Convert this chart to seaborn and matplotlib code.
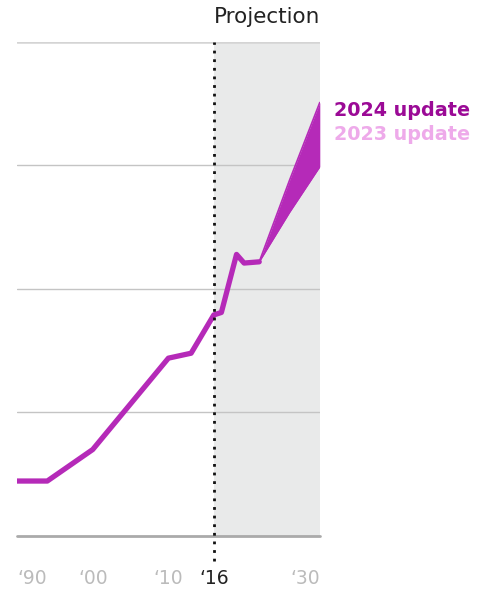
import numpy as np
import pandas as pd
import seaborn as sns
import matplotlib.pyplot as plt

# historical series (shared by both updates)
hist_years = [1990, 1994, 2000, 2010, 2013, 2016, 2017, 2019, 2020, 2022]
hist_vals = [0.445, 0.445, 0.70, 1.44, 1.48, 1.79, 1.81, 2.28, 2.21, 2.22]

# projections
proj_years = [2022, 2026, 2030]
upd_2024 = [2.22, 2.88, 3.51]
upd_2023 = [2.22, 2.62, 2.99]

tick_years = [1990, 2000, 2010, 2016, 2030]
tick_labels = ["\u201890", "\u201800", "\u201810", "\u201816", "\u201830"]

line_col = "#b52ab8"
col_2024 = "#9b0a96"
col_2023 = "#eeaaea"

sns.set_style("white")
plt.rcParams['font.family'] = ['DejaVu Sans']

fig = plt.figure(figsize=(4.86, 5.89), dpi=100)
ax = fig.add_axes([0.035, 0.09, 0.623, 0.8387])

# projection shading
ax.axvspan(2016, 2030, color="#e9eaea", zorder=0, lw=0)

for g in [1, 2, 3]:
    ax.axhline(g, color="#c4c4c4", lw=1, zorder=1)
ax.axhline(4, color="#d4d4d4", lw=1.8, zorder=1)
ax.axhline(0, color="#aaaaaa", lw=2, zorder=1, clip_on=False)

ax.fill_between(proj_years, upd_2023, upd_2024, color=line_col, lw=0, zorder=3)
hist = pd.DataFrame({"year": hist_years, "val": hist_vals})
sns.lineplot(data=hist, x="year", y="val", ax=ax, color=line_col, lw=3.8, zorder=4)
sns.lineplot(x=proj_years, y=upd_2024, ax=ax, color=line_col, lw=1.2, zorder=4)
sns.lineplot(x=proj_years, y=upd_2023, ax=ax, color=line_col, lw=1.2, zorder=4)

ax.axvline(2016, ymin=-0.05, ymax=1, color="#111111", lw=2, ls=(0, (1, 2.1)),
           clip_on=False, zorder=5)

ax.set_xlim(1990, 2030)
ax.set_ylim(0, 4)
ax.set_yticks([])
ax.set_xticks(tick_years)
ax.set_xticklabels(tick_labels, fontsize=13.5)
ax.tick_params(axis="x", length=0, pad=24)
for t, lab in zip(ax.get_xticklabels(), tick_labels):
    t.set_color("#222222" if lab.endswith("16") else "#bbbbbb")
ax.get_xticklabels()[0].set_ha("left")
ax.get_xticklabels()[-1].set_ha("right")
ax.set_xlabel("")
ax.set_ylabel("")
for s in ax.spines.values():
    s.set_visible(False)

ax.text(2030, 4.12, "Projection", ha="right", va="bottom", fontsize=15.5, color="#222222")
ax.text(1.046, 0.862, "2024 update", transform=ax.transAxes, fontsize=13.8,
        fontweight="bold", color=col_2024, va="center")
ax.text(1.046, 0.812, "2023 update", transform=ax.transAxes, fontsize=13.8,
        fontweight="bold", color=col_2023, va="center")

fig.savefig("out.png", dpi=100)
